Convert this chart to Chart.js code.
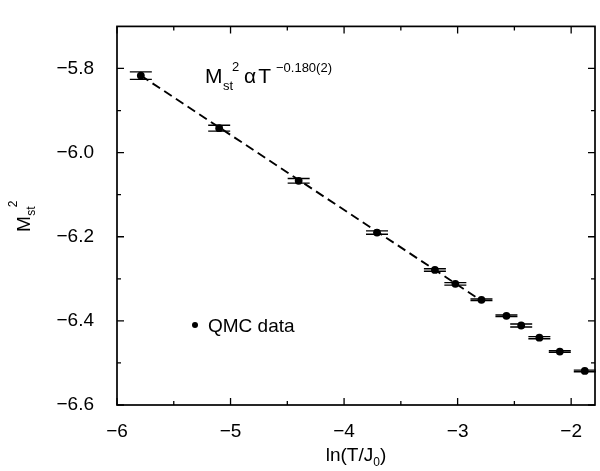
<!DOCTYPE html>
<html>
<head>
<meta charset="utf-8">
<script src="https://cdn.jsdelivr.net/npm/chart.js@4.4.1/dist/chart.umd.min.js"></script>
<style>
  html, body { margin: 0; padding: 0; background: #fff; }
  #wrap { width: 600px; height: 471px; }
</style>
</head>
<body>
<div id="wrap"><canvas id="chart" width="600" height="471"></canvas></div>
<script>
// QMC data: ln(T/J0) vs ln(Mst^2), with error
const lnT = [-5.79, -5.10, -4.40, -3.71, -3.20, -3.02, -2.79, -2.57, -2.44, -2.28, -2.10, -1.88];
const lnM2 = [-5.817, -5.942, -6.067, -6.190, -6.279, -6.312, -6.350, -6.388, -6.411, -6.440, -6.473, -6.519];
const lnM2Err = [0.009, 0.007, 0.0055, 0.004, 0.003, 0.003, 0.002, 0.002, 0.0035, 0.0025, 0.002, 0.002];

// power-law fit, drawn dashed
const fitX = [-5.79, -2.79];
const fitY = [-5.817, -6.352];

const xTicks = [-6, -5, -4, -3, -2];
const xMinor = [-5.5, -4.5, -3.5, -2.5];
const yTicks = [-6.6, -6.4, -6.2, -6.0, -5.8];
const yMinor = [-6.5, -6.3, -6.1, -5.9];

const FONT = '"Liberation Sans", Arial, Helvetica, sans-serif';

function fmt(v, d) {
    return (v < 0 ? '\u2212' : '') + Math.abs(v).toFixed(d);
}

// draws runs of text with sub/superscripts, returns end x
function richText(ctx, parts, x, y) {
    parts.forEach(p => {
        ctx.font = p.size + 'px ' + FONT;
        ctx.fillText(p.t, x + (p.dx || 0), y + (p.dy || 0));
        x += ctx.measureText(p.t).width + (p.dx || 0) + (p.gap || 0);
    });
    return x;
}

const framePlugin = {
    id: 'frame',
    beforeDatasetsDraw(chart) {
        const ctx = chart.ctx;
        const xs = chart.scales.x, ys = chart.scales.y;
        ctx.save();
        ctx.strokeStyle = '#000';
        ctx.lineWidth = 1.4;
        lnT.forEach((v, i) => {
            const px = xs.getPixelForValue(v);
            const top = ys.getPixelForValue(lnM2[i] + lnM2Err[i]);
            const bot = ys.getPixelForValue(lnM2[i] - lnM2Err[i]);
            ctx.beginPath();
            ctx.moveTo(px - 11, top); ctx.lineTo(px + 11, top);
            ctx.moveTo(px - 11, bot); ctx.lineTo(px + 11, bot);
            ctx.moveTo(px, top); ctx.lineTo(px, bot);
            ctx.stroke();
        });
        ctx.restore();
    },
    afterDraw(chart) {
        const ctx = chart.ctx;
        const a = chart.chartArea;
        const xs = chart.scales.x, ys = chart.scales.y;
        ctx.save();
        ctx.strokeStyle = '#000';
        ctx.fillStyle = '#000';

        // frame box
        ctx.lineWidth = 1.7;
        ctx.strokeRect(a.left, a.top, a.right - a.left, a.bottom - a.top);

        // inward ticks on all four sides
        ctx.lineWidth = 1.3;
        ctx.beginPath();
        const xt = (vals, len) => vals.forEach(v => {
            const px = xs.getPixelForValue(v);
            ctx.moveTo(px, a.bottom); ctx.lineTo(px, a.bottom - len);
            ctx.moveTo(px, a.top); ctx.lineTo(px, a.top + len);
        });
        const yt = (vals, len) => vals.forEach(v => {
            const py = ys.getPixelForValue(v);
            ctx.moveTo(a.left, py); ctx.lineTo(a.left + len, py);
            ctx.moveTo(a.right, py); ctx.lineTo(a.right - len, py);
        });
        xt(xTicks, 7); xt(xMinor, 4);
        yt(yTicks, 7); yt(yMinor, 4);
        ctx.stroke();

        ctx.textBaseline = 'alphabetic';
        ctx.textAlign = 'left';

        // fit annotation: Mst^2 α T^-0.180(2)
        let x = richText(ctx, [{ t: 'M', size: 21, gap: 0.5 }], 205, 83);
        ctx.font = '13px ' + FONT;
        const stW = ctx.measureText('st').width;
        richText(ctx, [{ t: 'st', size: 13 }], x, 90);
        richText(ctx, [{ t: '2', size: 13 }], x + stW - 1, 71);
        richText(ctx, [{ t: '\u03B1', size: 21, gap: 2 }, { t: 'T', size: 21, gap: 5 },
                       { t: '\u22120.180(2)', size: 13, dy: -11 }], 244, 83);

        // legend
        ctx.beginPath();
        ctx.arc(195, 325, 3, 0, Math.PI * 2);
        ctx.fill();
        richText(ctx, [{ t: 'QMC data', size: 19 }], 208, 332);

        // x title: ln(T/J0)
        ctx.font = '19px ' + FONT;
        const w1 = ctx.measureText('ln(T/J').width;
        ctx.font = '12px ' + FONT;
        const w2 = ctx.measureText('0').width;
        ctx.font = '19px ' + FONT;
        const w3 = ctx.measureText(')').width;
        const cx = (a.left + a.right) / 2 - (w1 + w2 + w3) / 2;
        richText(ctx, [{ t: 'ln(T/J', size: 19 }, { t: '0', size: 12, dy: 5 }, { t: ')', size: 19, dy: 0 }], cx, 461);

        // y title: Mst^2, rotated
        ctx.translate(30, 232);
        ctx.rotate(-Math.PI / 2);
        let yx = richText(ctx, [{ t: 'M', size: 19, gap: 0.5 }], 0, 0);
        ctx.font = '12px ' + FONT;
        const stW2 = ctx.measureText('st').width;
        richText(ctx, [{ t: 'st', size: 12 }], yx, 5);
        richText(ctx, [{ t: '2', size: 12 }], yx + stW2 - 1, -13);
        ctx.restore();
    }
};

new Chart(document.getElementById('chart'), {
    type: 'scatter',
    data: {
        datasets: [{
            label: 'QMC data',
            data: lnT.map((v, i) => ({ x: v, y: lnM2[i] })),
            backgroundColor: '#000',
            borderColor: '#000',
            pointRadius: 3.9,
            borderWidth: 0,
            order: 1
        }, {
            type: 'line',
            label: 'fit',
            data: fitX.map((v, i) => ({ x: v, y: fitY[i] })),
            borderColor: '#000',
            borderWidth: 1.9,
            borderDash: [9, 5],
            pointRadius: 0,
            fill: false,
            tension: 0,
            order: 2
        }]
    },
    options: {
        responsive: false,
        animation: false,
        events: [],
        layout: { padding: { top: 6, right: 5, left: 0, bottom: 0 } },
        plugins: {
            legend: { display: false },
            tooltip: { enabled: false }
        },
        scales: {
            x: {
                type: 'linear',
                min: -6,
                max: -1.79,
                grid: { display: false },
                border: { display: false },
                afterBuildTicks: s => { s.ticks = xTicks.map(v => ({ value: v })); },
                afterFit: s => { s.height = 66; },
                ticks: {
                    color: '#000',
                    padding: 7,
                    maxRotation: 0,
                    font: { family: FONT, size: 19 },
                    callback: v => fmt(v, 0)
                }
            },
            y: {
                type: 'linear',
                min: -6.6,
                max: -5.7,
                grid: { display: false },
                border: { display: false },
                afterBuildTicks: s => { s.ticks = yTicks.map(v => ({ value: v })); },
                afterFit: s => { s.width = 117; },
                ticks: {
                    color: '#000',
                    padding: 15,
                    font: { family: FONT, size: 19 },
                    callback: v => fmt(v, 1)
                }
            }
        }
    },
    plugins: [framePlugin]
});
</script>
</body>
</html>
